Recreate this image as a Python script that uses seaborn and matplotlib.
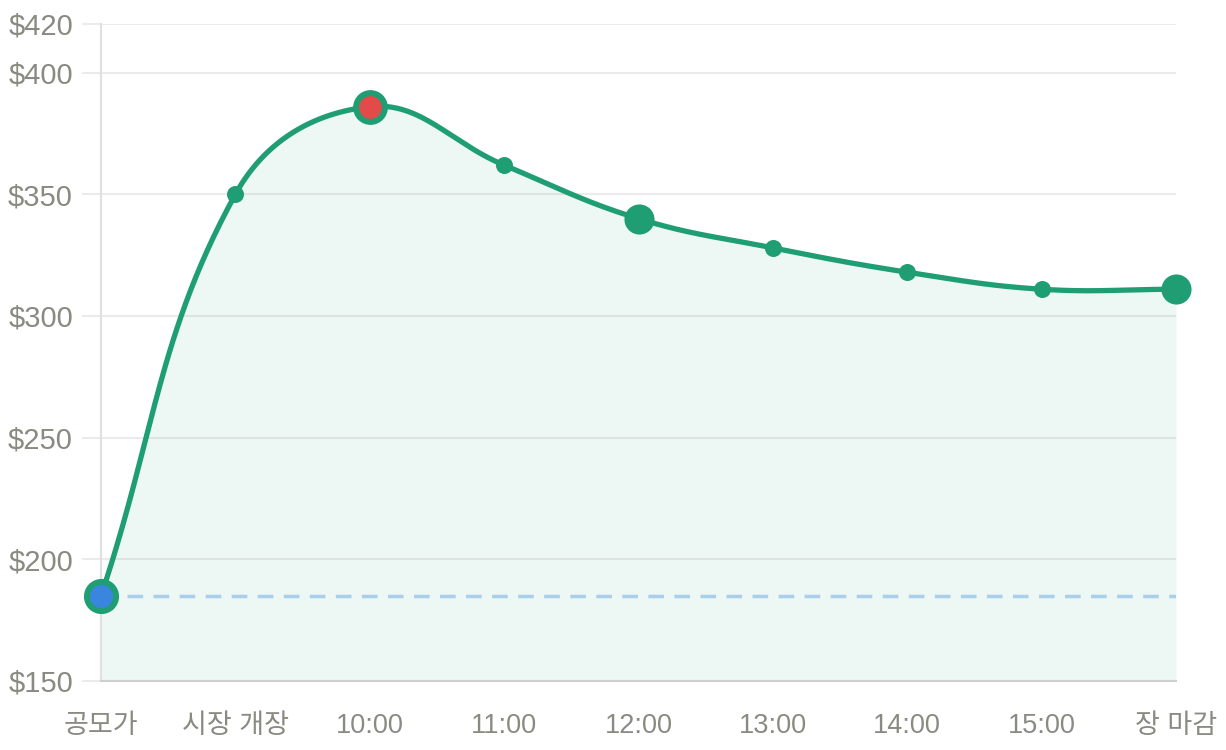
import matplotlib
matplotlib.use('Agg')
import matplotlib.pyplot as plt
import numpy as np
import pandas as pd
import seaborn as sns

# data
labels = ['공모가', '시장 개장', '10:00', '11:00', '12:00', '13:00', '14:00', '15:00', '장 마감']
prices = [185, 350, 386, 362, 340, 328, 318, 311, 311]
ipo_price = 185
y_ticks = [150, 200, 250, 300, 350, 400, 420]
big_points = ['12:00', '장 마감']

GREEN = '#1f9e74'
BLUE = '#3a86de'
RED = '#e24b4a'
DASH = '#a8d0ec'
GRID = '#ebebeb'
TEXT = '#8a8a82'


def spline(ax, xs, ys, tension=0.4, steps=60):
    """Chart.js-like bezier through the points, built in pixel space."""
    pts = ax.transData.transform(np.column_stack([xs, ys]))
    n = len(pts)
    cp_prev, cp_next = [], []
    for i in range(n):
        prev = pts[max(i - 1, 0)]
        cur = pts[i]
        nxt = pts[min(i + 1, n - 1)]
        d01 = np.hypot(*(cur - prev))
        d12 = np.hypot(*(nxt - cur))
        tot = d01 + d12
        s01 = d01 / tot if tot else 0
        s12 = d12 / tot if tot else 0
        cp_prev.append(cur - tension * s01 * (nxt - prev))
        cp_next.append(cur + tension * s12 * (nxt - prev))
    t = np.linspace(0, 1, steps)[:, None]
    out = []
    for i in range(n - 1):
        p0, p1, p2, p3 = pts[i], cp_next[i], cp_prev[i + 1], pts[i + 1]
        seg = ((1 - t) ** 3) * p0 + 3 * ((1 - t) ** 2) * t * p1 \
            + 3 * (1 - t) * t ** 2 * p2 + t ** 3 * p3
        out.append(seg if i == 0 else seg[1:])
    out = np.vstack(out)
    return ax.transData.inverted().transform(out)


sns.set_theme(style='white')
plt.rcParams['font.family'] = ['Liberation Sans', 'Noto Sans CJK KR']

fig = plt.figure(figsize=(12.26, 7.5), dpi=100)
ax = fig.add_axes([101 / 1226, 1 - 681 / 750, 1075 / 1226, 657 / 750])

x = np.arange(len(labels))
ax.set_xlim(0, len(labels) - 1)
ax.set_ylim(150, 420)

curve = spline(ax, x, prices)
df_curve = pd.DataFrame({'x': curve[:, 0], 'y': curve[:, 1]})

ax.fill_between(df_curve['x'], df_curve['y'], 150, color=GREEN, alpha=0.08,
                linewidth=0, zorder=1)
ax.axhline(ipo_price, color=DASH, linewidth=2.5, dashes=(4.5, 3), zorder=2)
sns.lineplot(data=df_curve, x='x', y='y', ax=ax, color=GREEN, linewidth=3.8,
             sort=False, estimator=None, zorder=3)

pts = pd.DataFrame({'label': labels, 'x': x, 'price': prices})
peak = pts['price'].idxmax()
special = pts.index.isin([0, peak])
big = pts['label'].isin(big_points)

sns.scatterplot(data=pts[~special & ~big], x='x', y='price', ax=ax, s=150,
                color=GREEN, linewidth=0, zorder=4, clip_on=False)
sns.scatterplot(data=pts[big & ~special], x='x', y='price', ax=ax, s=470,
                color=GREEN, linewidth=0, zorder=4, clip_on=False)
sns.scatterplot(data=pts.iloc[[0]], x='x', y='price', ax=ax, s=440,
                color=BLUE, edgecolor=GREEN, linewidth=4.3, zorder=5,
                clip_on=False)
sns.scatterplot(data=pts.iloc[[peak]], x='x', y='price', ax=ax, s=430,
                color=RED, edgecolor=GREEN, linewidth=4.3, zorder=5,
                clip_on=False)

ax.set_xticks(x)
ax.set_xticklabels(labels)
ax.set_yticks(y_ticks)
ax.set_yticklabels([f'${v}' for v in y_ticks])
ax.set_xlabel('')
ax.set_ylabel('')

ax.yaxis.grid(True, color=GRID, linewidth=1.5)
ax.xaxis.grid(False)
ax.set_axisbelow(True)
for side in ['top', 'right']:
    ax.spines[side].set_visible(False)
ax.spines['left'].set_color('#e0e0e0')
ax.spines['left'].set_linewidth(1.5)
ax.spines['bottom'].set_color('#cfcfcf')
ax.spines['bottom'].set_linewidth(1.5)

ax.tick_params(axis='y', left=True, length=13.7, width=1.5, color=GRID,
               pad=6.5, labelsize=21, labelcolor=TEXT)
ax.tick_params(axis='x', bottom=False, length=0, pad=23,
               labelsize=19.5, labelcolor=TEXT)

fig.savefig('out.png', dpi=100)
